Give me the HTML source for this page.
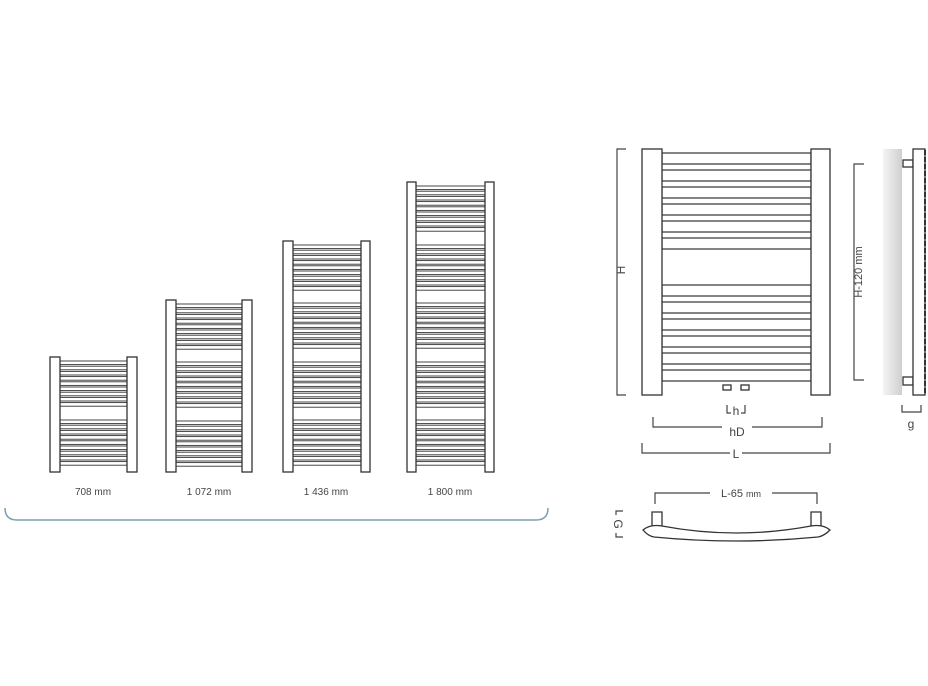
<!DOCTYPE html><html><head><meta charset="utf-8"><style>body{margin:0;background:#fff}svg{display:block}text{font-family:"Liberation Sans",sans-serif;fill:#444}</style></head><body>
<svg id="s" width="928" height="686" viewBox="0 0 928 686" xmlns="http://www.w3.org/2000/svg">
<defs><linearGradient id="w" x1="0" x2="1"><stop offset="0" stop-color="#f4f4f4"/><stop offset="1" stop-color="#cfcfcf"/></linearGradient></defs>
<g id="g" fill="#fff" stroke="#333" stroke-width="1.3"></g>
<g font-size="10" text-anchor="middle">
<text x="93" y="495">708 mm</text><text x="209" y="495">1 072 mm</text><text x="326" y="495">1 436 mm</text><text x="450" y="495">1 800 mm</text>
</g>
<path d="M5,508 Q5,520 17,520 L536,520 Q548,520 548,508" fill="none" stroke="#7aa0b0" stroke-width="1.5"/>
<!-- right main -->
<g fill="none" stroke="#444" stroke-width="1.2">
<path d="M626,149 H617 V395 H626"/>
<path d="M653,417 V427 H722 M752,427 H822 V417"/>
<path d="M642,443 V453 H730 M742,453 H830 V443"/>
<path d="M727,405 V413 H731 M745,405 V413 H741"/>
<path d="M864,164 H854 V380 H864"/>
<path d="M902,405 V412 H921 V405"/>
<path d="M655,504 V493 H710 M772,493 H817 V504"/>
<path d="M623,511 H616 V515 M616,533 V537 H623"/>
</g>
<g font-size="12" text-anchor="middle">
<text x="0" y="0" transform="translate(621,270) rotate(-90)" dy="4">H</text>
<text x="737" y="436">hD</text><text x="736" y="458">L</text>
<text x="736" y="415" font-size="12">h</text>
<text x="0" y="0" font-size="11" transform="translate(858,272) rotate(-90)" dy="4">H-120 mm</text>
<text x="911" y="428">g</text>
<text x="741" y="497" font-size="11">L-65 <tspan font-size="9">mm</tspan></text>
<text x="0" y="0" transform="translate(618,524) rotate(90)" dy="4">G</text>
</g>
<rect x="883" y="149" width="19" height="246" fill="url(#w)"/>
<g fill="#fff" stroke="#333" stroke-width="1.3">
<rect x="903" y="160" width="10" height="7"/><rect x="903" y="377" width="10" height="8"/>
<rect x="913" y="149" width="12" height="246"/>
<path d="M652,512 h10 v14 h-10z M811,512 h10 v14 h-10z"/>
<path d="M643,530 Q650,524 662,526 Q736,540 811,526 Q823,524 830,530 Q824,536 818,537 Q736,545 654,537 Q648,536 643,530Z"/>
<rect x="723" y="385" width="8" height="5"/><rect x="741" y="385" width="8" height="5"/>
</g>
<line x1="925" y1="150" x2="925" y2="394" stroke="#333" stroke-width="2" stroke-dasharray="5,2"/>
</svg>
<script>
var g=document.getElementById('g'),NS='http://www.w3.org/2000/svg';
function r(x,y,w,h,sw){var e=document.createElementNS(NS,'rect');e.setAttribute('x',x);e.setAttribute('y',y);e.setAttribute('width',w);e.setAttribute('height',h);if(sw)e.setAttribute('stroke-width',sw);g.appendChild(e);}
function rad(l1,l2,r1,r2,top,bot,gaps,p,bh,sw){
 // bars
 var y=top+4;var segs=[];var s=y;
 gaps.forEach(function(gp){segs.push([s,gp[0]]);s=gp[1];});segs.push([s,bot-3]);
 segs.forEach(function(sg){for(var yy=sg[0];yy+bh<=sg[1]+0.5;yy+=p)r(l2,yy,r1-l2,bh,sw);});
 r(l1,top,l2-l1,bot-top);r(r1,top,r2-r1,bot-top);
}
rad(50,60,127,137,357,472,[[410,420]],5.2,3.6,0.9);
rad(166,176,242,252,300,472,[[351,362],[410,421]],5.2,3.6,0.9);
rad(283,293,361,370,241,472,[[293,303],[351,362],[409,420]],5.2,3.6,0.9);
rad(407,416,485,494,182,472,[[234,245],[293,303],[350,362],[409,420]],5.2,3.6,0.9);
rad(642,662,811,830,149,395,[[258,285]],17,11,1.2);
</script>
</body></html>
